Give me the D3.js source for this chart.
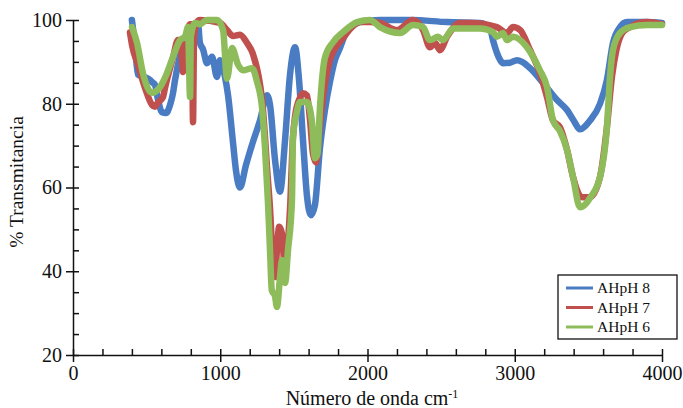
<!DOCTYPE html>
<html>
<head>
<meta charset="utf-8">
<script src="https://cdn.jsdelivr.net/npm/d3@7"></script>
<style>
  body { margin: 0; background: #fff; }
  svg, svg text { font-family: "Liberation Serif", "Times New Roman", serif; }
</style>
</head>
<body>
<svg id="chart" width="683" height="408"></svg>
<script>
// series as [wavenumber cm-1, % transmitance]
var ahph8 = [[400,100],[421,94],[441,87],[475,86.5],[509,86],[543,85],[557,84.5],[577,81],[604,78],[632,77.8],[659,79.7],[679,82.5],[693,85.7],[727,91.6],[761,95.7],[795,98.3],[822,99],[849,99],[862,94.5],[883,93],[910,89.7],[944,91.2],[978,86.4],[998,90.4],[1032,86.4],[1053,82],[1087,70.6],[1107,64],[1134,60],[1175,65.4],[1222,70.9],[1270,76],[1317,82],[1338,79.7],[1372,66.6],[1406,59],[1440,71.3],[1474,87],[1508,93.5],[1535,85.7],[1562,71.3],[1589,58],[1616,53.4],[1643,55.8],[1677,69.4],[1711,78.5],[1745,85.2],[1779,90.4],[1813,93.3],[1847,96.4],[1881,98],[1949,99.5],[2085,100],[2300,100],[2540,99.5],[2764,99.3],[2832,98],[2852,95.2],[2900,90.5],[2920,89.7],[2968,89.8],[3015,90.4],[3050,90],[3104,88.5],[3192,85],[3287,80.9],[3355,78.5],[3400,76],[3443,73.9],[3511,76],[3579,80],[3626,85.7],[3667,94.5],[3715,98.3],[3762,99.5],[3900,99.5],[4000,99.3]];

var ahph7 = [[387,97],[401,94],[441,89.3],[489,83.8],[537,79.7],[557,79.3],[577,80.3],[611,81.6],[625,83.8],[679,91],[713,95.2],[730,95],[747,87.6],[765,96],[774,97.1],[795,99],[808,99],[815,75.6],[822,96],[842,99.5],[862,100],[998,99.3],[1046,97.6],[1087,96.2],[1134,96.5],[1182,94.5],[1222,91.9],[1270,84.6],[1284,81],[1304,72],[1317,65],[1338,55],[1358,42],[1372,38.6],[1385,45],[1400,50.6],[1419,49],[1440,40],[1460,47],[1474,55],[1494,72],[1508,77],[1542,81.5],[1562,82.5],[1589,82],[1610,76],[1630,68],[1650,66],[1677,75],[1700,82],[1745,90.5],[1766,92.4],[1834,95.7],[1900,98.5],[1949,99.5],[2017,99.5],[2085,99.3],[2200,97.6],[2309,100],[2377,97.6],[2424,93.5],[2460,94.5],[2492,92.8],[2540,96],[2628,99.3],[2700,99.3],[2879,98.3],[2947,96.9],[2988,98.3],[3036,97.6],[3104,92.8],[3171,87.3],[3219,81.6],[3260,76],[3307,74.4],[3355,69],[3396,62.5],[3443,58],[3457,57.7],[3511,57.7],[3579,62.5],[3626,74.4],[3660,86.4],[3690,92.8],[3730,96.9],[3783,98.3],[3898,99.5],[4000,99]];

var ahph6 = [[401,98.3],[435,94.5],[475,87.3],[537,82.6],[591,84],[638,87.3],[679,91.2],[727,95.2],[761,96],[781,98.3],[795,81.6],[800,96],[829,99.3],[862,99],[910,100],[978,100],[1019,97.6],[1046,86],[1080,93.3],[1121,89.3],[1155,88],[1216,88.5],[1250,85.2],[1284,79],[1304,69.4],[1324,56.5],[1338,45],[1350,35.5],[1372,34],[1385,31.5],[1406,38.6],[1419,42.7],[1440,37.2],[1460,45],[1487,57],[1494,72],[1520,78],[1542,80.4],[1589,80.4],[1623,75.6],[1643,67],[1660,68],[1677,79],[1711,91],[1766,94.7],[1834,97.1],[1929,99.5],[2017,100],[2085,98.3],[2221,96.9],[2309,98.8],[2377,98.3],[2424,95.2],[2479,96],[2513,95.2],[2581,98],[2764,98],[2852,97.1],[2879,96],[2920,96.9],[2947,95.2],[2988,96],[3083,93.5],[3171,88],[3219,84],[3260,76],[3307,73.5],[3355,69],[3396,62.5],[3443,55.3],[3480,56],[3511,57.5],[3579,62.5],[3626,74.4],[3647,86.4],[3667,92.8],[3715,96.9],[3783,98.3],[3898,98.8],[4000,98.8]];

var series_names = ["AHpH 8", "AHpH 7", "AHpH 6"];
var series_colors = ["#4a7cc4", "#c0504d", "#8fbc5a"];
var x_ticks = [0, 1000, 2000, 3000, 4000];
var y_ticks = [20, 40, 60, 80, 100];

var FONT = "'Liberation Serif', 'Times New Roman', serif";
var svg = d3.select("#chart");
var xs = d3.scaleLinear().domain([0, 4000]).range([73, 662]);
var ys = d3.scaleLinear().domain([20, 100]).range([355, 20]);

// lines
var line = d3.line()
    .x(d => xs(d[0]))
    .y(d => ys(d[1]))
    .curve(d3.curveMonotoneX);

[ahph8, ahph7, ahph6].forEach(function(data, i) {
    svg.append("path")
        .datum(data)
        .attr("fill", "none")
        .attr("stroke", series_colors[i])
        .attr("stroke-width", 6.5)
        .attr("stroke-linejoin", "round")
        .attr("stroke-linecap", "round")
        .attr("d", line);
});

// y axis
var y_minor = d3.range(20, 101, 5).filter(v => y_ticks.indexOf(v) < 0);
var yax = svg.append("g").attr("transform", "translate(73,0)")
    .call(d3.axisLeft(ys).tickValues(y_ticks).tickSize(7).tickPadding(4).tickSizeOuter(0));
yax.selectAll(".tick line").attr("x1", 6);
svg.append("g").attr("transform", "translate(73,0)")
    .call(d3.axisRight(ys).tickValues(y_minor).tickSize(6).tickFormat("").tickSizeOuter(0))
    .select(".domain").remove();

// x axis
var x_minor = d3.range(0, 4001, 200).filter(v => x_ticks.indexOf(v) < 0);
var xax = svg.append("g").attr("transform", "translate(0,355)")
    .call(d3.axisBottom(xs).tickValues(x_ticks).tickSize(7).tickPadding(4)
        .tickFormat(d3.format("d")).tickSizeOuter(0));
xax.selectAll(".tick line").attr("y1", -6);
svg.append("g").attr("transform", "translate(0,355)")
    .call(d3.axisTop(xs).tickValues(x_minor).tickSize(6).tickFormat("").tickSizeOuter(0))
    .select(".domain").remove();

svg.selectAll("g").attr("font-family", FONT);
svg.selectAll(".domain, .tick line").attr("stroke", "#111").attr("stroke-width", 1.5);
svg.selectAll(".tick text")
    .attr("fill", "#111")
    .attr("font-family", FONT)
    .attr("font-size", 20);

// axis titles
svg.append("text")
    .attr("transform", "translate(23,182) rotate(-90)")
    .attr("text-anchor", "middle")
    .attr("font-family", FONT)
    .attr("font-size", 19.5)
    .attr("fill", "#111")
    .text("% Transmitancia");

var xt = svg.append("text")
    .attr("x", 372)
    .attr("y", 405)
    .attr("text-anchor", "middle")
    .attr("font-family", FONT)
    .attr("font-size", 20)
    .attr("fill", "#111");
xt.append("tspan").text("Número de onda cm");
xt.append("tspan").attr("dy", -7).attr("font-size", 12).text("-1");

// legend
var lg = svg.append("g");
lg.append("rect")
    .attr("x", 558).attr("y", 275)
    .attr("width", 119).attr("height", 64)
    .attr("fill", "#fff")
    .attr("stroke", "#111")
    .attr("stroke-width", 1.3);
series_names.forEach(function(name, i) {
    var yy = 288 + i * 19.5;
    lg.append("line")
        .attr("x1", 566).attr("x2", 593)
        .attr("y1", yy).attr("y2", yy)
        .attr("stroke", series_colors[i])
        .attr("stroke-width", 3);
    lg.append("text")
        .attr("x", 597).attr("y", yy + 5)
        .attr("font-family", FONT)
        .attr("font-size", 15.5)
        .attr("fill", "#111")
        .text(name);
});
</script>
</body>
</html>
